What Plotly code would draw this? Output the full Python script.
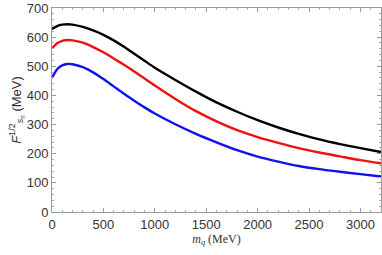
import plotly.graph_objects as go

m_q = [0, 50, 100, 150, 200, 300, 400, 500, 600, 700, 800, 900, 1000, 1200, 1400,
       1600, 1800, 2000, 2200, 2400, 2600, 2800, 3000, 3200]
f_black = [628, 638, 643, 644, 643, 635, 623, 608, 589, 567, 543, 519, 495, 453, 413,
           376, 344, 315, 290, 268, 249, 233, 219, 206]
f_red = [562, 579, 587, 590, 589, 581, 566, 548, 527, 505, 482, 458, 434, 388, 346,
         311, 281, 257, 237, 219, 204, 191, 178, 167]
f_blue = [460, 490, 503, 508, 507, 497, 479, 456, 431, 406, 382, 359, 338, 301, 268,
          239, 212, 190, 173, 158, 147, 138, 130, 122]

x_ticks = [0, 500, 1000, 1500, 2000, 2500, 3000]
y_ticks = [0, 100, 200, 300, 400, 500, 600, 700]

fig = go.Figure()
for ys, col in [(f_black, "black"), (f_red, "#ee1111"), (f_blue, "#1111ee")]:
    fig.add_trace(go.Scatter(x=m_q, y=ys, mode="lines",
                             line=dict(color=col, width=2.4, shape="spline", smoothing=0.8),
                             showlegend=False, hoverinfo="skip"))

axis_common = dict(
    showline=True, linecolor="#999999", linewidth=1, mirror="allticks",
    ticks="inside", ticklen=4, tickcolor="#999999", tickwidth=1,
    showgrid=False, zeroline=False, automargin=False,
    tickfont=dict(family="Liberation Sans, Arial, sans-serif", size=13, color="#333333"),
)

fig.update_xaxes(range=[0, 3200], tickvals=x_ticks,
                 minor=dict(dtick=100, ticks="inside", ticklen=2, tickcolor="#aaaaaa", showgrid=False),
                 title=dict(text="<i>m</i><sub><i>q</i></sub> (MeV)",
                            font=dict(family="Liberation Serif, Times New Roman, serif", size=12, color="#333333"),
                            standoff=3),
                 **axis_common)
fig.update_yaxes(range=[0, 700], tickvals=y_ticks,
                 minor=dict(dtick=20, ticks="inside", ticklen=2, tickcolor="#aaaaaa", showgrid=False),
                 title=dict(text="<i>F</i><sup>1/2</sup><sub><i>s</i><sub>n</sub></sub> (MeV)",
                            font=dict(family="Liberation Sans, Arial, sans-serif", size=13, color="#333333"),
                            standoff=2),
                 **axis_common)

fig.update_layout(width=382, height=255, margin=dict(l=52, r=1, t=8, b=43),
                  paper_bgcolor="white", plot_bgcolor="white")
fig.write_html("out.html", config={"displayModeBar": False},
               post_script="document.body.style.margin='0px';document.body.style.overflow='hidden';")
